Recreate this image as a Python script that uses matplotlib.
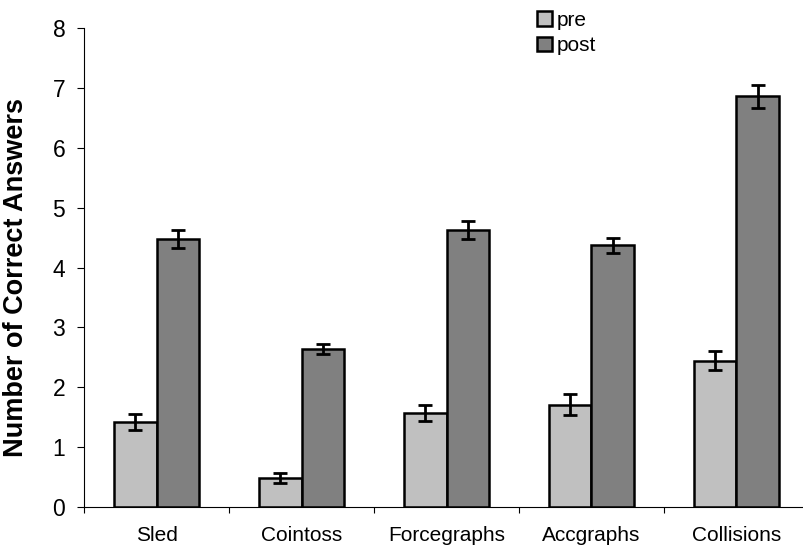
import matplotlib
matplotlib.use("Agg")
import matplotlib.pyplot as plt
import numpy as np

categories = ["Sled", "Cointoss", "Forcegraphs", "Accgraphs", "Collisions"]
pre = [1.42, 0.48, 1.57, 1.71, 2.44]
post = [4.47, 2.64, 4.63, 4.37, 6.86]
pre_err = [0.14, 0.085, 0.13, 0.18, 0.16]
post_err = [0.15, 0.085, 0.15, 0.13, 0.19]

plt.rcParams['font.family'] = ['Liberation Sans', 'DejaVu Sans']

fig = plt.figure(figsize=(8.04, 5.46), dpi=100)
ax = fig.add_axes([0.1045, 0.0714, 0.9017, 0.8773])

x = np.arange(len(categories))
w = 0.293
err_kw = dict(ecolor='black', elinewidth=2.0, capsize=4.7, capthick=2.0)
ax.bar(x - w / 2, pre, w, yerr=pre_err, color='#C0C0C0', edgecolor='black',
       linewidth=1.8, label='pre', error_kw=err_kw, zorder=2)
ax.bar(x + w / 2, post, w, yerr=post_err, color='#808080', edgecolor='black',
       linewidth=1.8, label='post', error_kw=err_kw, zorder=2)

ax.set_xlim(-0.5, len(categories) - 0.5)
ax.set_ylim(0, 8)
ax.set_yticks(range(0, 9))

# ticks between the groups, labels at the centres
ax.set_xticks(np.arange(-0.5, len(categories) + 0.5, 1.0))
ax.set_xticklabels([])
ax.set_xticks(x, minor=True)
ax.set_xticklabels(categories, minor=True, fontsize=15)
ax.tick_params(axis='x', which='major', direction='out', length=4.3, width=0.8)
ax.tick_params(axis='x', which='minor', length=0, pad=14)
ax.tick_params(axis='y', direction='out', length=5, width=0.8, labelsize=16.5, pad=8.5)

for s in ['top', 'right']:
    ax.spines[s].set_visible(False)
for s in ['left', 'bottom']:
    ax.spines[s].set_linewidth(0.8)

ax.set_ylabel('Number of Correct Answers', fontsize=19.5, fontweight='bold')
ax.yaxis.set_label_coords(-0.076, 0.48)

fig.legend(loc='upper left', bbox_to_anchor=(0.668, 0.98), frameon=False,
           fontsize=15, handlelength=0.7, handleheight=0.7, handletextpad=0.25,
           labelspacing=0.3, borderpad=0, borderaxespad=0)

fig.savefig('out.png', dpi=100)
